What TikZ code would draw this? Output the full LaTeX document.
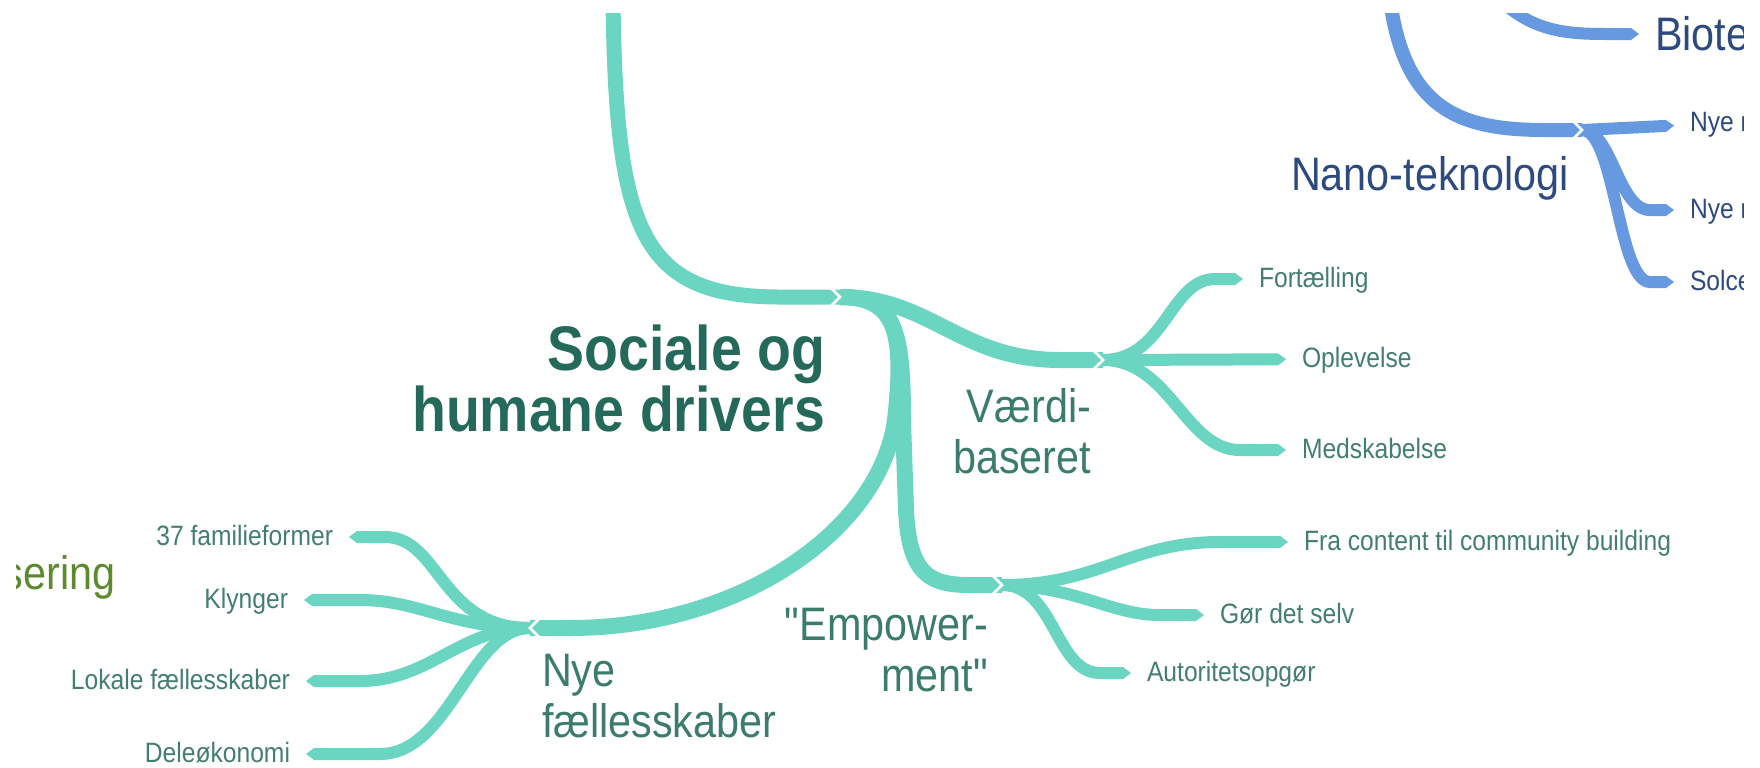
\documentclass[tikz,border=0pt]{standalone}
\usepackage{fontspec}
\setmainfont{Liberation Sans}[FakeStretch=0.88, Ligatures=TeXOff]
\usetikzlibrary{arrows.meta,calc}

\definecolor{branchteal}{HTML}{6AD5C0}
\definecolor{branchblue}{HTML}{6699E0}
\definecolor{titlegreen}{HTML}{25695B}
\definecolor{subgreen}{HTML}{3C7C6D}
\definecolor{leafgreen}{HTML}{437E71}
\definecolor{textblue}{HTML}{2D4A7E}
\definecolor{olivegreen}{HTML}{5E8A2E}

\newcommand\titlesize{\bfseries\fontsize{31.5}{29.5}\selectfont}
\newcommand\subsize{\fontsize{23.5}{25.5}\selectfont}
\newcommand\leafsize{\fontsize{14}{16}\selectfont}

\tikzset{
  stem/.style={draw=branchteal, line width=7.5pt},
  branch/.style={draw=branchteal, line width=8pt},
  leaf/.style={draw=branchteal, line width=6pt, shorten >=8pt,
    -{Triangle[width=6pt,length=4pt,line width=0pt]}},
  bluestem/.style={stem, draw=branchblue, line width=7pt},
  blueleaf/.style={leaf, draw=branchblue},
  notch/.style={draw=white, line width=1.3pt, line join=miter},
  titletext/.style={font=\titlesize, text=titlegreen, align=right},
  subtext/.style={font=\subsize, text=subgreen},
  leaftext/.style={font=\leafsize, text=leafgreen, text height=8pt, text depth=0pt},
  bluesub/.style={font=\subsize, text=textblue},
  blueleaftext/.style={leaftext, text=textblue}
}

\begin{document}
\begin{tikzpicture}[y=0.5pt, x=0.5pt, yscale=-1, inner sep=0pt, outer sep=0pt]
  \path[fill=white] (0,0) rectangle (1760,767);
  \begin{scope}
  \clip (16,13) rectangle (1743,767);

  % junctions
  \coordinate (J0) at (840,297);
  \coordinate (J1) at (1103,360);
  \coordinate (J2) at (530,628);
  \coordinate (J3) at (1002,585);
  \coordinate (J4) at (1582,130);
  \coordinate (topteal) at (613,0);
  \coordinate (topblue) at (1390,0);
  \coordinate (topbio) at (1500,0);

  % labels
  \node[titletext, anchor=north east] (social) at (825,325) {Sociale og\\humane drivers};
  \node[subtext, align=right, anchor=north east] (vaerdi) at (1091,388) {Værdi-\\baseret};
  \node[subtext, align=right, anchor=north east] (empower) at (988,608) {"Empower-\\ment"};
  \node[subtext, align=left, anchor=north west] (nyefael) at (542,654) {Nye\\fællesskaber};
  \node[bluesub, anchor=north west] (nano) at (1291,156) {Nano-teknologi};
  \node[bluesub, anchor=west, text height=16.8pt, text depth=0pt] (biote) at (1655,34) {Biote};
  \node[subtext, text=olivegreen, anchor=base west] (sering) at (3,589) {sering};

  \node[leaftext, anchor=west] (fort) at (1259,279) {Fortælling};
  \node[leaftext, anchor=west] (oplev) at (1302,359) {Oplevelse};
  \node[leaftext, anchor=west] (medsk) at (1302,450) {Medskabelse};
  \node[leaftext, anchor=west] (fracont) at (1304,542) {Fra content til community building};
  \node[leaftext, anchor=west] (gordet) at (1220,615) {Gør det selv};
  \node[leaftext, anchor=west] (autor) at (1147,673) {Autoritetsopgør};
  \node[leaftext, anchor=east] (fam) at (333,537) {37 familieformer};
  \node[leaftext, anchor=east] (klyng) at (288,600) {Klynger};
  \node[leaftext, anchor=east] (lokal) at (290,681) {Lokale fællesskaber};
  \node[leaftext, anchor=east] (dele) at (290,754) {Deleøkonomi};
  \node[blueleaftext, anchor=west] (nyeA) at (1690,123) {Nye m};
  \node[blueleaftext, anchor=west] (nyeB) at (1690,210) {Nye m};
  \node[blueleaftext, anchor=west] (solce) at (1690,282) {Solce};

  % teal branches
  \draw[stem] (topteal) .. controls (616,230) and (640,297) .. (780,297) -- (J0);
  \draw[branch] (J0) .. controls (930,297) and (960,360) .. (1060,360) -- (J1);
  \draw[branch] (J0) .. controls (895,297) and (905,330) .. (895,420)
    .. controls (880,530) and (740,628) .. (570,628) -- (J2);
  \draw[branch] (J0) .. controls (895,297) and (903,330) .. (903,420) -- (906,510)
    .. controls (909,575) and (930,585) .. (970,585) -- (J3);

  \draw[leaf] (J1) .. controls (1165,360) and (1170,279) .. (1215,279) -- (fort);
  \draw[leaf] (J1) -- (oplev);
  \draw[leaf] (J1) .. controls (1170,360) and (1185,450) .. (1240,450) -- (medsk);
  \draw[leaf] (J3) .. controls (1100,585) and (1130,542) .. (1220,542) -- (fracont);
  \draw[leaf] (J3) .. controls (1080,587) and (1110,615) .. (1160,615) -- (gordet);
  \draw[leaf] (J3) .. controls (1055,585) and (1055,673) .. (1100,673) -- (autor);
  \draw[leaf] (J2) .. controls (440,628) and (440,537) .. (385,537) -- (fam);
  \draw[leaf] (J2) .. controls (450,628) and (420,600) .. (360,600) -- (klyng);
  \draw[leaf] (J2) .. controls (460,628) and (430,681) .. (360,681) -- (lokal);
  \draw[leaf] (J2) .. controls (470,628) and (450,754) .. (380,754) -- (dele);

  % blue branches
  \draw[bluestem] (topblue) .. controls (1405,110) and (1460,130) .. (1545,130) -- (J4);
  \draw[blueleaf] (topbio) .. controls (1535,33) and (1570,34) .. (1610,34) -- (biote);
  \draw[blueleaf] (J4) -- (nyeA);
  \draw[blueleaf] (J4) .. controls (1612,130) and (1618,210) .. (1650,210) -- (nyeB);
  \draw[blueleaf] (J4) .. controls (1615,130) and (1618,282) .. (1650,282) -- (solce);

  % notches
  \foreach \j in {J0,J1,J3,J4}
    \draw[notch] ($(\j)+(-12,-12)$) -- (\j) -- ($(\j)+(-12,12)$);
  \draw[notch] ($(J2)+(12,-12)$) -- (J2) -- ($(J2)+(12,12)$);
  \end{scope}
\end{tikzpicture}
\end{document}
